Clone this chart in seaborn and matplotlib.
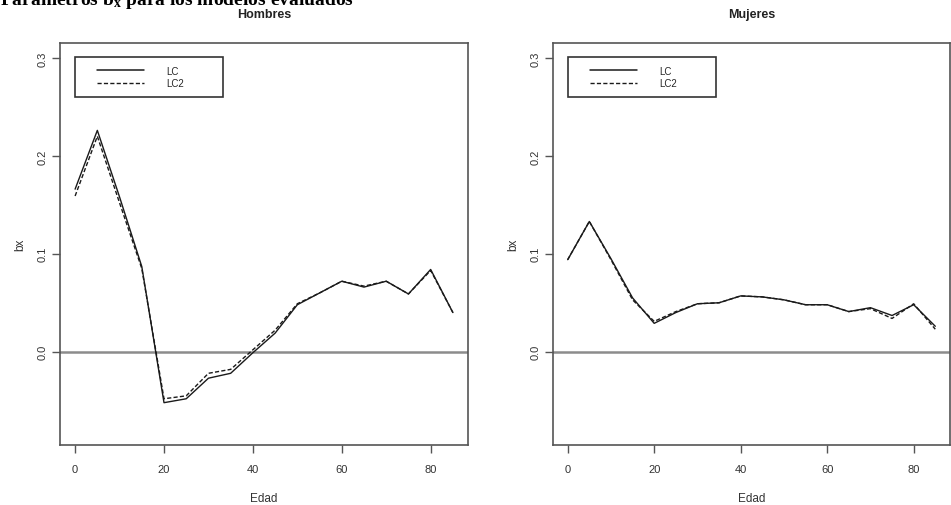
import pandas as pd
import seaborn as sns
import matplotlib.pyplot as plt
from matplotlib.patches import Rectangle

# edades y parámetros bx
edad = [0, 5, 10, 15, 20, 25, 30, 35, 40, 45, 50, 55, 60, 65, 70, 75, 80, 85]

hombres_lc = [0.166, 0.226, 0.158, 0.087, -0.052, -0.048, -0.027, -0.022, -0.001,
              0.019, 0.048, 0.060, 0.072, 0.066, 0.072, 0.059, 0.084, 0.040]
hombres_lc2 = [0.159, 0.220, 0.152, 0.085, -0.048, -0.045, -0.022, -0.018, 0.002,
               0.022, 0.049, 0.060, 0.072, 0.067, 0.072, 0.059, 0.083, 0.040]

mujeres_lc = [0.094, 0.133, 0.095, 0.055, 0.029, 0.040, 0.049, 0.050, 0.057,
              0.056, 0.053, 0.048, 0.048, 0.041, 0.045, 0.037, 0.048, 0.026]
mujeres_lc2 = [0.094, 0.133, 0.094, 0.053, 0.031, 0.041, 0.049, 0.050, 0.057,
               0.056, 0.053, 0.048, 0.048, 0.041, 0.044, 0.034, 0.049, 0.023]

modelos = ["LC", "LC2"]
paneles = ["Hombres", "Mujeres"]
yticks = [0.0, 0.1, 0.2, 0.3]
xticks = [0, 20, 40, 60, 80]

sns.set_theme(style="white")
plt.rcParams["font.family"] = ["Liberation Sans", "DejaVu Sans"]
plt.rcParams["mathtext.fontset"] = "custom"
plt.rcParams["mathtext.bf"] = "Liberation Serif:bold"

datos = {
    "Hombres": (hombres_lc, hombres_lc2),
    "Mujeres": (mujeres_lc, mujeres_lc2),
}

W, H = 951, 506
fig = plt.figure(figsize=(W / 100, H / 100), dpi=100)
# cajas de los paneles en píxeles: izquierda, derecha, arriba, abajo
cajas = [(60, 468, 44, 446), (553, 950, 44, 446)]

gris = "#555555"
for panel, (x0, x1, y0, y1) in zip(paneles, cajas):
    ax = fig.add_axes([x0 / W, 1 - y1 / H, (x1 - x0) / W, (y1 - y0) / H])
    aw, ah = x1 - x0, y1 - y0
    lc, lc2 = datos[panel]
    df = pd.DataFrame({
        "Edad": edad * 2,
        "bx": lc + lc2,
        "modelo": ["LC"] * len(edad) + ["LC2"] * len(edad),
    })
    sns.lineplot(data=df, x="Edad", y="bx", style="modelo", ax=ax,
                 color="#1a1a1a", linewidth=1.0,
                 dashes={"LC": "", "LC2": (3, 1.6)}, legend=False)
    ax.axhline(0, color="#8c8c8c", linewidth=1.8, zorder=0)

    ax.set_xlim(-3.4, 88.4)
    ax.set_ylim(-0.0952, 0.3152)
    ax.set_xticks(xticks)
    ax.set_yticks(yticks)
    ax.set_xticklabels([str(t) for t in xticks])
    ax.set_yticklabels([f"{t:.1f}" for t in yticks], rotation=90, va="center")
    ax.tick_params(axis="both", which="both", direction="out", length=6,
                   width=1.0, color=gris, labelcolor="#333333", labelsize=8,
                   bottom=True, left=True)
    ax.tick_params(axis="x", pad=8)
    ax.tick_params(axis="y", pad=3)
    for s in ax.spines.values():
        s.set_color(gris)
        s.set_linewidth(1.2)

    ax.set_xlabel("Edad", fontsize=8.5, color="#333333", labelpad=13)
    ax.set_ylabel("bx", fontsize=8.5, color="#333333", labelpad=8)
    ax.set_title(panel, fontsize=9, fontweight="bold", color="#222222", pad=19)

    # leyenda con caja dibujada aparte
    ax.add_patch(Rectangle((15 / aw, 1 - 54 / ah), 148 / aw, 40 / ah,
                           transform=ax.transAxes, fill=False,
                           edgecolor="#333333", linewidth=1.2, zorder=5))
    h1, = ax.plot([], [], color="#1a1a1a", linewidth=1.1)
    h2, = ax.plot([], [], color="#1a1a1a", linewidth=1.0, linestyle=(0, (3, 1.6)))
    ax.legend([h1, h2], modelos, loc="center left",
              bbox_to_anchor=(37 / aw, 1 - 34 / ah),
              fontsize=7, frameon=False, handlelength=4.8,
              handletextpad=2.3, labelspacing=0.25,
              borderpad=0, borderaxespad=0)

fig.text(0.0, 0.990, r"Parámetros $\mathbf{b_x}$ para los modelos evaluados",
         fontsize=14, fontweight="bold", family="Liberation Serif",
         va="baseline", ha="left", color="black")

fig.savefig("out.png", dpi=100)
